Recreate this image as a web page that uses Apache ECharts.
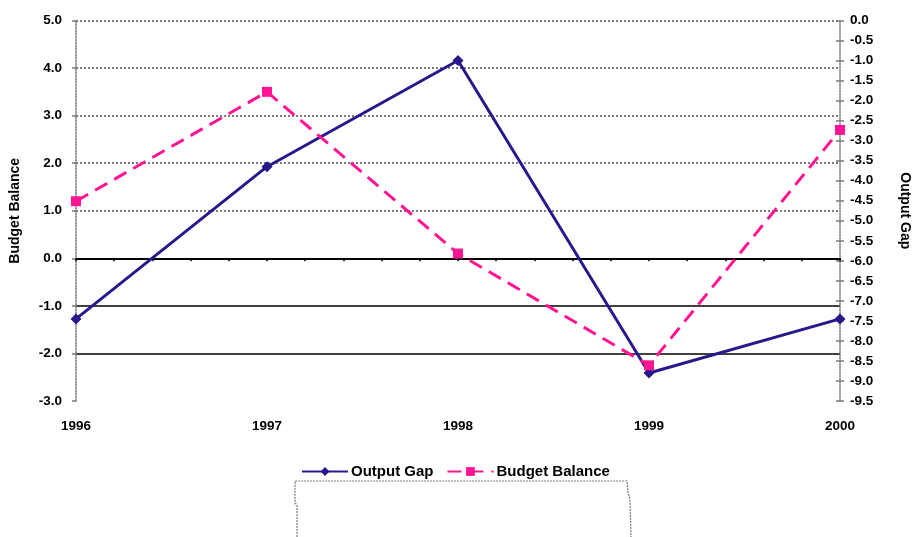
<!DOCTYPE html>
<html>
<head>
<meta charset="utf-8">
<script src="https://cdn.jsdelivr.net/npm/echarts@6/dist/echarts.min.js"></script>
<style>
  html, body { margin: 0; padding: 0; background: #fff; }
  #chart { width: 920px; height: 537px; }
</style>
</head>
<body>
<div id="chart"></div>
<script>
// Years on the category axis
const years = ['1996', '1997', '1998', '1999', '2000'];
// Budget balance, read on the left axis
const budgetBalance = [1.2, 3.5, 0.1, -2.25, 2.7];
// Output gap, read on the right axis
const outputGap = [-7.45, -3.65, -1.0, -8.8, -7.45];
// Axis ranges
const leftRange = { min: -3, max: 5, interval: 1 };
const rightRange = { min: -9.5, max: 0, interval: 0.5 };

const FONT = '"Liberation Sans", Arial, sans-serif';
const BLUE = '#261a8a';
const PINK = '#ff1493';
const GRAY = '#7a7a7a';
const CLEAR = 'rgba(0,0,0,0)';

const labelStyle = { color: '#000', fontFamily: FONT, fontWeight: 'bold', fontSize: 13.5 };

// dotted gray grid on the positive side, solid black rules between the minimum and zero
const leftSteps = Math.round((leftRange.max - leftRange.min) / leftRange.interval) + 1;
const dottedColors = [];
const solidColors = [];
for (let i = 0; i < leftSteps; i++) {
  const v = leftRange.min + i * leftRange.interval;
  dottedColors.push(v > 0 ? GRAY : CLEAR);
  solidColors.push(v < 0 && v > leftRange.min ? '#000' : CLEAR);
}

const chart = echarts.init(document.getElementById('chart'), null, { renderer: 'canvas' });

chart.setOption({
  animation: false,
  backgroundColor: '#fff',
  textStyle: { fontFamily: FONT },
  grid: { left: 76, right: 78, top: 20.5, bottom: 136, containLabel: false },
  legend: {
    data: ['Output Gap', 'Budget Balance'],
    left: 296,
    top: 459,
    itemWidth: 46,
    itemHeight: 11,
    itemGap: 13,
    textStyle: Object.assign({}, labelStyle, { fontSize: 15, padding: [0, 0, 0, -2] })
  },
  xAxis: [
    {
      type: 'category',
      data: years,
      boundaryGap: false,
      axisLine: { show: false, onZero: false },
      axisTick: { show: false },
      axisLabel: Object.assign({}, labelStyle, { margin: 18 }),
      splitLine: { show: false }
    },
    {
      // zero line with small ticks
      type: 'value',
      position: 'bottom',
      min: 0,
      max: 20,
      interval: 1,
      axisLine: { show: true, onZero: true, onZeroAxisIndex: 0, lineStyle: { color: '#000', width: 2 } },
      axisTick: { show: true, length: 3, lineStyle: { color: '#000', width: 1.5 } },
      axisLabel: { show: false },
      splitLine: { show: false }
    }
  ],
  yAxis: [
    {
      type: 'value',
      position: 'left',
      min: leftRange.min,
      max: leftRange.max,
      interval: leftRange.interval,
      name: 'Budget Balance',
      nameLocation: 'middle',
      nameRotate: 90,
      nameGap: 54,
      nameTextStyle: Object.assign({}, labelStyle, { fontSize: 14 }),
      axisLine: { show: true, lineStyle: { color: GRAY, type: 'dotted', width: 1.5 } },
      axisTick: { show: true, length: 4, lineStyle: { color: GRAY, width: 1.5 } },
      axisLabel: Object.assign({}, labelStyle, { margin: 14, formatter: v => v.toFixed(1) }),
      splitLine: { show: true, lineStyle: { color: dottedColors, type: 'dotted', width: 2 } }
    },
    {
      type: 'value',
      position: 'right',
      min: rightRange.min,
      max: rightRange.max,
      interval: rightRange.interval,
      name: 'Output Gap',
      nameLocation: 'middle',
      nameRotate: -90,
      nameGap: 58,
      nameTextStyle: Object.assign({}, labelStyle, { fontSize: 14 }),
      axisLine: { show: true, lineStyle: { color: GRAY, type: 'dotted', width: 1.5 } },
      axisTick: { show: true, length: 4, lineStyle: { color: GRAY, width: 1.5 } },
      axisLabel: Object.assign({}, labelStyle, { margin: 10, formatter: v => v.toFixed(1) }),
      splitLine: { show: false }
    },
    {
      // solid black rules below zero
      type: 'value',
      position: 'left',
      min: leftRange.min,
      max: leftRange.max,
      interval: leftRange.interval,
      axisLine: { show: false },
      axisTick: { show: false },
      axisLabel: { show: false },
      splitLine: { show: true, lineStyle: { color: solidColors, type: 'solid', width: 1.5 } }
    },
    {
      // inner half of the crossing ticks on the right axis
      type: 'value',
      position: 'right',
      min: rightRange.min,
      max: rightRange.max,
      interval: rightRange.interval,
      axisLine: { show: false },
      axisTick: { show: true, inside: true, length: 4, lineStyle: { color: GRAY, width: 1.5 } },
      axisLabel: { show: false },
      splitLine: { show: false }
    }
  ],
  series: [
    {
      name: 'Output Gap',
      type: 'line',
      xAxisIndex: 0,
      yAxisIndex: 1,
      data: outputGap,
      symbol: 'diamond',
      symbolSize: 11,
      itemStyle: { color: BLUE },
      lineStyle: { color: BLUE, width: 3 },
      z: 3
    },
    {
      name: 'Budget Balance',
      type: 'line',
      xAxisIndex: 0,
      yAxisIndex: 0,
      data: budgetBalance,
      symbol: 'rect',
      symbolSize: 10,
      itemStyle: { color: PINK },
      lineStyle: { color: PINK, width: 3, type: [14, 8] },
      z: 4
    }
  ],
  graphic: [
    {
      // outline of the empty note box under the legend
      type: 'polyline',
      silent: true,
      shape: { points: [[297, 537], [297, 505], [295, 503], [295, 481], [627, 481], [628, 492], [630, 500], [631, 537]] },
      style: { stroke: GRAY, lineWidth: 1.2, lineDash: [2, 1], fill: null }
    }
  ]
});
</script>
</body>
</html>
